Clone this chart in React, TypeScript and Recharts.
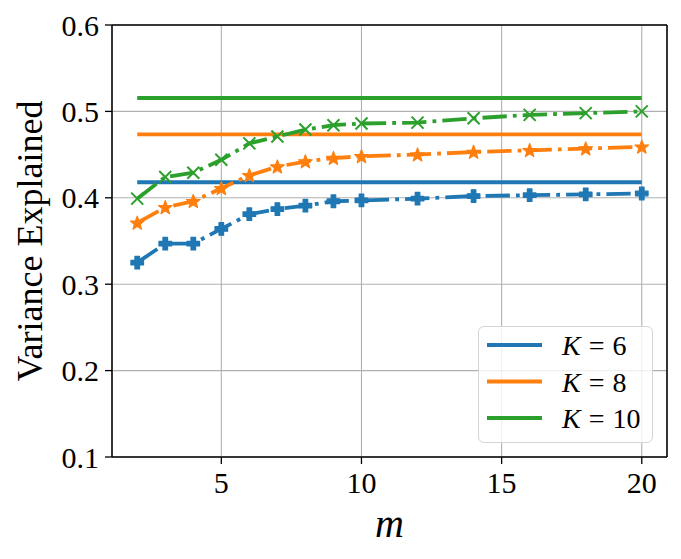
import React from 'react';
import { LineChart, Line, XAxis, YAxis, CartesianGrid, ReferenceLine, Legend } from 'recharts';

const mValues = [2, 3, 4, 5, 6, 7, 8, 9, 10, 12, 14, 16, 18, 20];
const k6Curve = [0.325, 0.347, 0.347, 0.364, 0.381, 0.387, 0.391, 0.396, 0.397, 0.399, 0.402, 0.403, 0.404, 0.405];
const k8Curve = [0.371, 0.389, 0.396, 0.411, 0.426, 0.436, 0.442, 0.446, 0.448, 0.450, 0.453, 0.455, 0.457, 0.459];
const k10Curve = [0.399, 0.424, 0.429, 0.444, 0.463, 0.471, 0.479, 0.484, 0.486, 0.487, 0.492, 0.496, 0.498, 0.500];
const k6Level = 0.418;
const k8Level = 0.4735;
const k10Level = 0.5155;
const xTicks = [5, 10, 15, 20];
const yTicks = [0.1, 0.2, 0.3, 0.4, 0.5, 0.6];
const legendLabels = ['6', '8', '10'];

const BLUE = '#1f77b4';
const ORANGE = '#ff7f0e';
const GREEN = '#2ca02c';
const legendColors = [BLUE, ORANGE, GREEN];

const FONT = '"Liberation Serif", "Times New Roman", serif';
const LW = 3.8;
const DASHDOT = `${6.4 * LW} ${1.6 * LW} ${1 * LW} ${1.6 * LW}`;

const data = mValues.map((m, i) => ({
  m,
  k6: k6Curve[i],
  k8: k8Curve[i],
  k10: k10Curve[i],
  l6: k6Level,
  l8: k8Level,
  l10: k10Level,
}));

const PlusDot = (props: any) => {
  const { cx, cy, index } = props;
  if (cx == null || cy == null) return <g key={`p${index}`} />;
  const a = 6.3;
  const w = 2.3;
  const pts = [
    [-w, -a], [w, -a], [w, -w], [a, -w], [a, w], [w, w], [w, a], [-w, a], [-w, w], [-a, w], [-a, -w], [-w, -w],
  ].map(([x, y]) => `${cx + x},${cy + y}`).join(' ');
  return <polygon key={`p${index}`} points={pts} fill={BLUE} stroke={BLUE} strokeWidth={1.2} strokeLinejoin="round" />;
};

const StarDot = (props: any) => {
  const { cx, cy, index } = props;
  if (cx == null || cy == null) return <g key={`s${index}`} />;
  const R = 7.2;
  const r = 3.0;
  const pts: string[] = [];
  for (let k = 0; k < 10; k++) {
    const ang = -Math.PI / 2 + (k * Math.PI) / 5;
    const rad = k % 2 === 0 ? R : r;
    pts.push(`${cx + rad * Math.cos(ang)},${cy + 0.5 + rad * Math.sin(ang)}`);
  }
  return <polygon key={`s${index}`} points={pts.join(' ')} fill={ORANGE} stroke={ORANGE} strokeWidth={1.2} strokeLinejoin="round" />;
};

const XDot = (props: any) => {
  const { cx, cy, index } = props;
  if (cx == null || cy == null) return <g key={`x${index}`} />;
  const h = 6;
  return (
    <g key={`x${index}`} stroke={GREEN} strokeWidth={2}>
      <line x1={cx - h} y1={cy - h} x2={cx + h} y2={cy + h} />
      <line x1={cx - h} y1={cy + h} x2={cx + h} y2={cy - h} />
    </g>
  );
};

const renderLegend = () => (
  <div
    style={{
      width: 175,
      height: 117,
      boxSizing: 'border-box',
      border: '1.5px solid #d4d4d4',
      borderRadius: 6,
      background: 'rgba(255,255,255,0.8)',
    }}
  >
    <svg width={172} height={114} style={{ display: 'block' }}>
      {legendLabels.map((lab, i) => {
        const y = 18 + i * 36.5;
        return (
          <g key={lab}>
            <line x1={8} x2={63} y1={y} y2={y} stroke={legendColors[i]} strokeWidth={LW} />
            <text x={83} y={y + 10} fontFamily={FONT} fontSize={28} fill="#000">
              <tspan fontStyle="italic">K</tspan>
              <tspan dx={8}>=</tspan>
              <tspan dx={8}>{lab}</tspan>
            </text>
          </g>
        );
      })}
    </svg>
  </div>
);

const XLabel = (props: any) => {
  const vb = props.viewBox || {};
  return (
    <text x={vb.x + vb.width / 2} y={vb.y + 80} textAnchor="middle" fontFamily={FONT} fontSize={40} fontStyle="italic" fill="#000">
      m
    </text>
  );
};

const YLabel = (props: any) => {
  const vb = props.viewBox || {};
  const x = 34;
  const y = vb.y + vb.height / 2;
  return (
    <text x={x} y={y} textAnchor="middle" transform={`rotate(-90, ${x}, ${y})`} fontFamily={FONT} fontSize={36} fill="#000">
      Variance Explained
    </text>
  );
};

export default function App() {
  const tickStyle = { fontFamily: FONT, fontSize: 30, fill: '#000' };
  return (
    <div style={{ width: 665, height: 551 }}>
      <LineChart width={665} height={551} data={data} margin={{ top: 17, right: 6, left: 0, bottom: 8 }}>
        <CartesianGrid stroke="#b0b0b0" strokeWidth={1.1} />
        <XAxis
          dataKey="m"
          type="number"
          domain={[1.1, 20.9]}
          ticks={xTicks}
          height={94}
          tickSize={7}
          tickMargin={8}
          tick={tickStyle}
          axisLine={{ stroke: '#000', strokeWidth: 1.5 }}
          tickLine={{ stroke: '#000', strokeWidth: 1.3 }}
          allowDataOverflow
          label={<XLabel />}
        />
        <YAxis
          type="number"
          domain={[0.1, 0.6]}
          ticks={yTicks}
          width={104}
          tickSize={7}
          tickMargin={6}
          tick={tickStyle}
          tickFormatter={(v: number) => v.toFixed(1)}
          axisLine={{ stroke: '#000', strokeWidth: 1.5 }}
          tickLine={{ stroke: '#000', strokeWidth: 1.3 }}
          allowDataOverflow
          label={<YLabel />}
        />
        <ReferenceLine y={0.6} stroke="#000" strokeWidth={1.5} />
        <ReferenceLine x={20.9} stroke="#000" strokeWidth={1.5} />
        <Line dataKey="l6" stroke={BLUE} strokeWidth={LW} dot={false} isAnimationActive={false} legendType="none" />
        <Line dataKey="l8" stroke={ORANGE} strokeWidth={LW} dot={false} isAnimationActive={false} legendType="none" />
        <Line dataKey="l10" stroke={GREEN} strokeWidth={LW} dot={false} isAnimationActive={false} legendType="none" />
        <Line dataKey="k6" stroke={BLUE} strokeWidth={LW} strokeDasharray={DASHDOT} dot={PlusDot} isAnimationActive={false} legendType="none" />
        <Line dataKey="k8" stroke={ORANGE} strokeWidth={LW} strokeDasharray={DASHDOT} dot={StarDot} isAnimationActive={false} legendType="none" />
        <Line dataKey="k10" stroke={GREEN} strokeWidth={LW} strokeDasharray={DASHDOT} dot={XDot} isAnimationActive={false} legendType="none" />
        <Legend
          layout="horizontal"
          verticalAlign="middle"
          align="center"
          content={renderLegend}
          wrapperStyle={{ position: 'absolute', left: 470, top: 318, width: 175, height: 117, margin: 0, padding: 0 }}
        />
      </LineChart>
    </div>
  );
}
